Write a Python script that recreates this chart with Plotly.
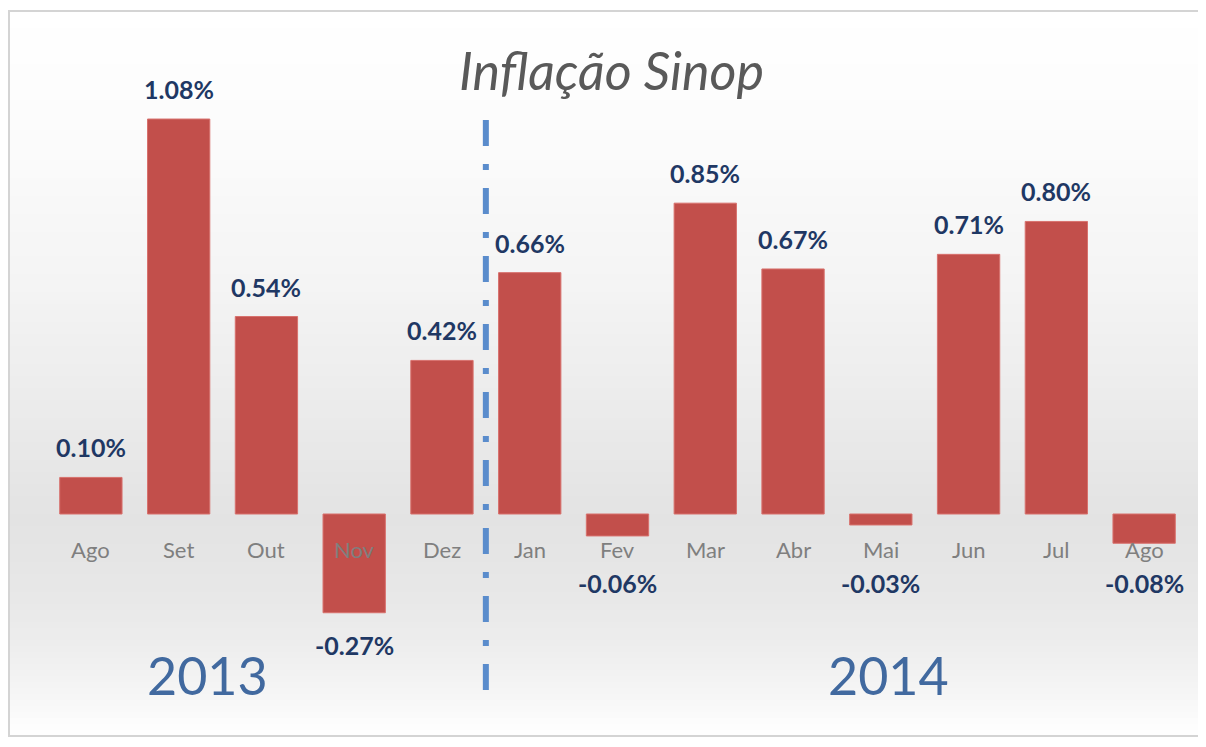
import plotly.graph_objects as go

# ---- data ----
months = ["Ago", "Set", "Out", "Nov", "Dez", "Jan", "Fev", "Mar", "Abr", "Mai", "Jun", "Jul", "Ago "]
inflation = [0.10, 1.08, 0.54, -0.27, 0.42, 0.66, -0.06, 0.85, 0.67, -0.03, 0.71, 0.80, -0.08]
years = ["2013", "2014"]
title_text = "Inflação Sinop"

# ---- geometry ----
# page pixels -> figure pixels (the html body adds an 8px margin)
OFF = 8
W, H = 1206 - OFF, 747 - OFF
ML, MR, MT, MB = 47 - OFF, 18, 90 - OFF, 47
PX_PER_UNIT = 365.7
ZERO_PX = 514 - OFF
plot_h = H - MT - MB
y_top = (ZERO_PX - MT) / PX_PER_UNIT
y_bot = -(H - MB - ZERO_PX) / PX_PER_UNIT


def py_to_paper(py):
    py -= OFF
    return (H - MB - py) / plot_h


def px_to_paper(px):
    px -= OFF
    return (px - ML) / (W - ML - MR)


def py_to_data(py):
    py -= OFF
    return (ZERO_PX - py) / PX_PER_UNIT


fig = go.Figure()

fig.add_trace(go.Bar(
    x=list(range(len(months))),
    y=inflation,
    width=0.71,
    marker=dict(color="#c24f4b", line=dict(color="#d8716d", width=1)),
    hoverinfo="skip",
))

shapes = []
# background gradient (stripes)
stops = [(10, 255), (150, 251), (300, 243), (450, 232), (520, 227), (600, 232), (650, 238), (700, 247), (737, 255)]


def grey_at(py):
    for (a, ca), (b, cb) in zip(stops[:-1], stops[1:]):
        if a <= py <= b:
            t = (py - a) / (b - a)
            return int(round(ca + (cb - ca) * t))
    return 255


step = 6
py = 10
while py < 737:
    g = grey_at(py + step / 2)
    shapes.append(dict(type="rect", xref="paper", yref="paper", layer="below",
                       x0=px_to_paper(8), x1=px_to_paper(1200),
                       y0=py_to_paper(min(py + step, 737)), y1=py_to_paper(py),
                       fillcolor=f"rgb({g},{g},{g})", line=dict(width=0)))
    py += step

# chart border
shapes.append(dict(type="rect", xref="paper", yref="paper", layer="above",
                   x0=px_to_paper(9), x1=px_to_paper(1200),
                   y0=py_to_paper(736), y1=py_to_paper(11),
                   fillcolor="rgba(0,0,0,0)", line=dict(color="#d4d4d4", width=2)))

# dash-dot separator between Dez and Jan
shapes.append(dict(type="line", xref="x", yref="paper",
                   x0=4.5, x1=4.5, y0=py_to_paper(690), y1=py_to_paper(108),
                   line=dict(color="#5a8ccc", width=6, dash="26px,18px,6px,18px")))

annotations = []
# category labels at the zero line
for i, m in enumerate(months):
    annotations.append(dict(x=i, y=0, xref="x", yref="y", text=m.strip(),
                            showarrow=False, yanchor="middle", yshift=-35,
                            font=dict(family="Lato, sans-serif", size=22, color="#7f7f7f")))

# data labels
neg_floor = py_to_data(583)
for i, v in enumerate(inflation):
    if v >= 0:
        annotations.append(dict(x=i, y=v, xref="x", yref="y", text=f"<b>{v:.2f}%</b>",
                                showarrow=False, yanchor="middle", yshift=30,
                                font=dict(family="Lato, sans-serif", size=25, color="#1f3864")))
    else:
        yv = min(v - 32 / PX_PER_UNIT, neg_floor)
        annotations.append(dict(x=i, y=yv, xref="x", yref="y", text=f"<b>{v:.2f}%</b>",
                                showarrow=False, yanchor="middle",
                                font=dict(family="Lato, sans-serif", size=25, color="#1f3864")))

# year labels
for txt, px in zip(years, [207, 888]):
    annotations.append(dict(x=px_to_paper(px), y=py_to_paper(675), xref="paper", yref="paper",
                            text=txt, showarrow=False, xanchor="center", yanchor="middle",
                            font=dict(family="Lato, sans-serif", size=52, color="#41699f")))

# title
annotations.append(dict(x=px_to_paper(611), y=py_to_paper(70), xref="paper", yref="paper",
                        text=f"<i>{title_text}</i>", showarrow=False, xanchor="center", yanchor="middle",
                        font=dict(family="Lato, sans-serif", size=52, color="#595959")))

fig.update_layout(
    width=W, height=H,
    margin=dict(l=ML, r=MR, t=MT, b=MB, pad=0),
    paper_bgcolor="white",
    plot_bgcolor="rgba(0,0,0,0)",
    showlegend=False,
    shapes=shapes,
    annotations=annotations,
    xaxis=dict(range=[-0.5, len(months) - 0.5], showticklabels=False, showgrid=False,
               zeroline=False, showline=False, ticks=""),
    yaxis=dict(range=[y_bot, y_top], showticklabels=False, showgrid=False,
               zeroline=False, showline=False, ticks=""),
)

fig.write_html("out.html")
